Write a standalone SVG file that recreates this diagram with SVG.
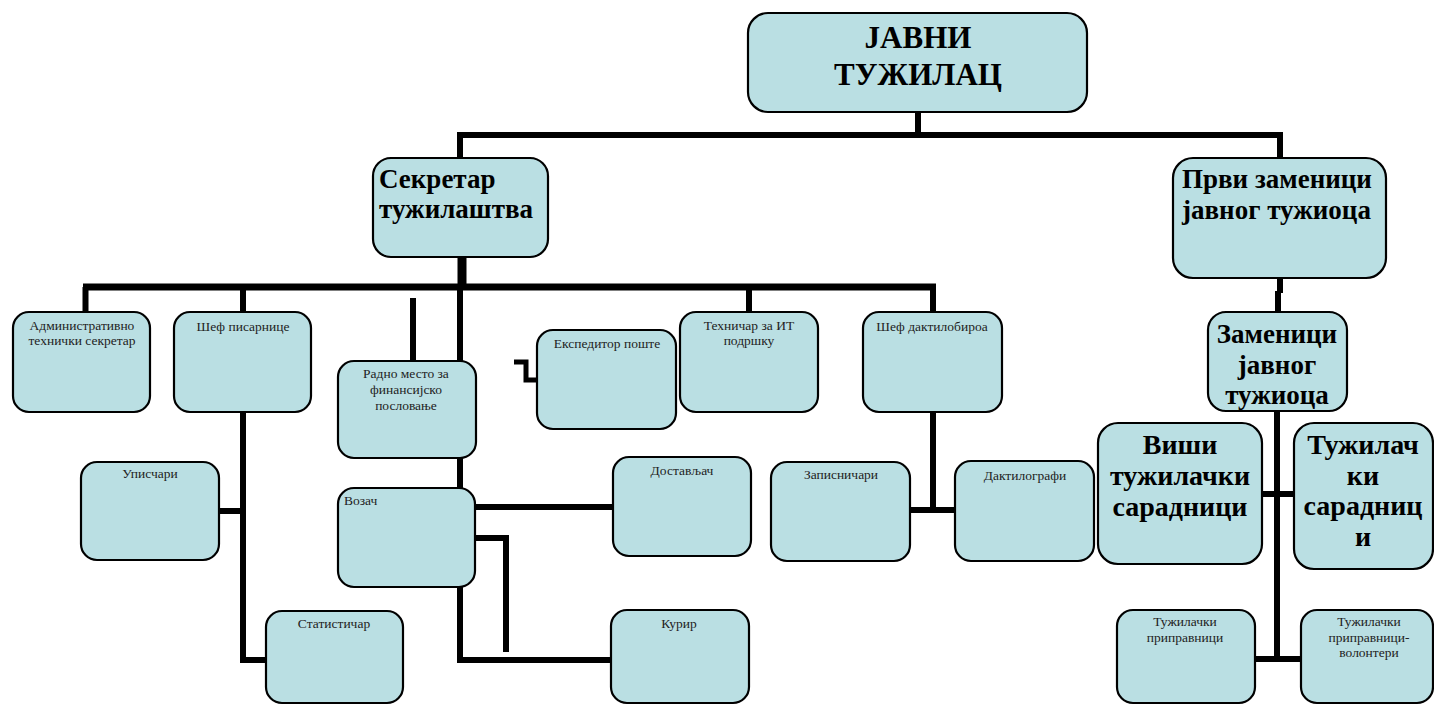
<svg xmlns="http://www.w3.org/2000/svg" width="1434" height="705" viewBox="0 0 1434 705">
<style>
.b{fill:#BADFE3;stroke:#000;stroke-width:2.2}
.c{fill:none;stroke:#000;stroke-width:6;stroke-linecap:butt}
.s{font-family:"Liberation Serif","Times New Roman",serif;font-size:13.5px;fill:#222;text-anchor:middle}
.L{font-family:"Liberation Serif","Times New Roman",serif;font-size:27px;font-weight:bold;fill:#000}
.m{text-anchor:middle}
</style>
<rect width="1434" height="705" fill="#fff"/>
<g id="connectors">
<path class="c" d="M918,112 V135 M457,135 H1283 M460,135 V158 M1280,135 V158"/>
<path class="c" d="M462,257 V288" style="stroke-width:9"/>
<path class="c" d="M83,287 H936" style="stroke-width:7"/>
<path class="c" d="M85.5,287 V312 M243,287 V312 M749,287 V312 M933,287 V312"/>
<path class="c" d="M413,298 V360"/>
<path class="c" d="M460,287 V361 M460,458 V488 M460,587 V660 H611"/>
<path class="c" d="M475,507 H613"/>
<path class="c" d="M475,538 H506 V652"/>
<path class="c" d="M243,412 V660 H266 M219,511 H243"/>
<path class="c" d="M933,412 V510 M910,510 H955"/>
<path class="c" d="M514,362 H526 V380 H537" style="stroke-width:5"/>
<path class="c" d="M1280,278 V293 M1278,291 V312"/>
<path class="c" d="M1277,411 V662 M1262,494 H1294 M1255,659 H1301"/>
</g>
<g id="javni-tuzilac">
<rect class="b" x="748" y="13" width="339" height="99" rx="20"/>
<text class="L m" x="918" y="48" style="font-size:31px">ЈАВНИ</text>
<text class="L m" x="918" y="85" style="font-size:31px">ТУЖИЛАЦ</text>
</g>
<g id="sekretar">
<rect class="b" x="373" y="158" width="175" height="99" rx="18"/>
<text class="L" x="379" y="188">Секретар</text>
<text class="L" x="379" y="218">тужилаштва</text>
</g>
<g id="prvi-zamenici">
<rect class="b" x="1173" y="158" width="213" height="120" rx="20"/>
<text class="L" x="1182" y="188">Први заменици</text>
<text class="L" x="1182" y="219">јавног тужиоца</text>
</g>
<g id="admin">
<rect class="b" x="13" y="312" width="137" height="100" rx="16"/>
<text class="s" x="82" y="330">Административно</text>
<text class="s" x="82" y="345">технички секретар</text>
</g>
<g id="sef-pisarnice">
<rect class="b" x="174" y="312" width="137" height="100" rx="16"/>
<text class="s" x="243" y="331">Шеф писарнице</text>
</g>
<g id="radno-mesto">
<rect class="b" x="338" y="361" width="138" height="97" rx="16"/>
<text class="s" x="406" y="378">Радно место за</text>
<text class="s" x="406" y="394">финансијско</text>
<text class="s" x="406" y="410">пословање</text>
</g>
<g id="ekspeditor">
<rect class="b" x="537" y="330" width="139" height="99" rx="16"/>
<text class="s" x="607" y="348">Експедитор поште</text>
</g>
<g id="tehnicar">
<rect class="b" x="680" y="312" width="138" height="100" rx="16"/>
<text class="s" x="749" y="330">Техничар за ИТ</text>
<text class="s" x="749" y="345">подршку</text>
</g>
<g id="sef-daktilobiroa">
<rect class="b" x="863" y="312" width="139" height="100" rx="16"/>
<text class="s" x="932" y="331">Шеф дактилобироа</text>
</g>
<g id="zamenici">
<rect class="b" x="1208" y="312" width="139" height="99" rx="18"/>
<text class="L m" x="1277" y="343">Заменици</text>
<text class="L m" x="1277" y="374">јавног</text>
<text class="L m" x="1277" y="404">тужиоца</text>
</g>
<g id="upisnicari">
<rect class="b" x="81" y="462" width="138" height="98" rx="16"/>
<text class="s" x="150" y="478">Уписчари</text>
</g>
<g id="vozac">
<rect class="b" x="338" y="488" width="137" height="99" rx="16"/>
<text class="s" x="344" y="505" style="text-anchor:start">Возач</text>
</g>
<g id="dostavljac">
<rect class="b" x="613" y="457" width="138" height="99" rx="16"/>
<text class="s" x="682" y="475">Достављач</text>
</g>
<g id="zapisnicari">
<rect class="b" x="771" y="462" width="139" height="99" rx="16"/>
<text class="s" x="841" y="479">Записничари</text>
</g>
<g id="daktilografi">
<rect class="b" x="955" y="461" width="139" height="100" rx="16"/>
<text class="s" x="1025" y="480">Дактилографи</text>
</g>
<g id="visi-saradnici">
<rect class="b" x="1098" y="423" width="164" height="141" rx="20"/>
<text class="L m" x="1180" y="454" style="font-size:28px">Виши</text>
<text class="L m" x="1180" y="485" style="font-size:28px">тужилачки</text>
<text class="L m" x="1180" y="516" style="font-size:28px">сарадници</text>
</g>
<g id="tuzilacki-saradnici">
<rect class="b" x="1294" y="423" width="139" height="146" rx="20"/>
<text class="L m" x="1363" y="454" style="font-size:28px">Тужилач</text>
<text class="L m" x="1363" y="485" style="font-size:28px">ки</text>
<text class="L m" x="1363" y="515" style="font-size:28px">сарадниц</text>
<text class="L m" x="1363" y="546" style="font-size:28px">и</text>
</g>
<g id="statisticar">
<rect class="b" x="266" y="611" width="137" height="92" rx="16"/>
<text class="s" x="334" y="628">Статистичар</text>
</g>
<g id="kurir">
<rect class="b" x="611" y="610" width="138" height="93" rx="16"/>
<text class="s" x="679" y="628">Курир</text>
</g>
<g id="pripravnici">
<rect class="b" x="1117" y="610" width="138" height="93" rx="16"/>
<text class="s" x="1185" y="626">Тужилачки</text>
<text class="s" x="1185" y="642">приправници</text>
</g>
<g id="volonteri">
<rect class="b" x="1301" y="610" width="132" height="93" rx="16"/>
<text class="s" x="1369" y="626">Тужилачки</text>
<text class="s" x="1369" y="642">приправници-</text>
<text class="s" x="1369" y="657">волонтери</text>
</g>
</svg>
